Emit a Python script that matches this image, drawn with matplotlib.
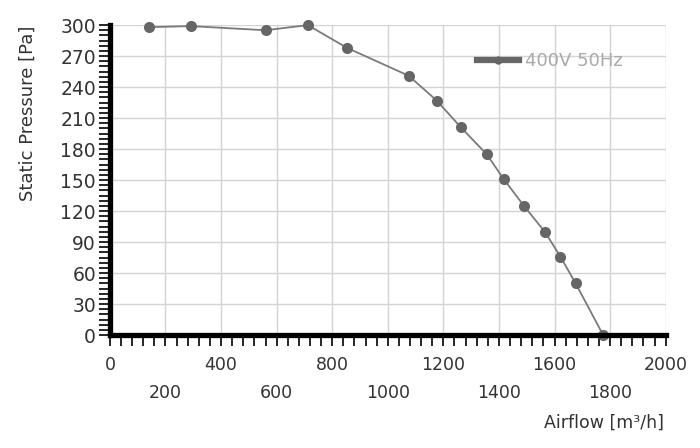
import matplotlib
matplotlib.use("Agg")
import matplotlib.pyplot as plt
from matplotlib.ticker import MultipleLocator, FuncFormatter
from matplotlib.lines import Line2D

# 风量-静压数据
airflow = [140, 291, 561, 712, 853, 1075, 1176, 1263, 1356, 1417, 1490, 1565, 1621, 1676, 1775]
pressure = [298, 299, 295, 300, 278, 251, 227, 201, 175, 151, 125, 100, 76, 50, 0]
series_name = "400V 50Hz"

plt.rcParams['font.family'] = ['DejaVu Sans']

fig = plt.figure(figsize=(7, 4.48), dpi=100)
ax = fig.add_axes([0.157, 0.252, 0.794, 0.692])

ax.plot(airflow, pressure, color='#7a7a7a', linewidth=1.3, marker='o',
        markersize=8, markerfacecolor='#666666', markeredgewidth=0,
        clip_on=False, zorder=3)

ax.set_xlim(0, 2000)
ax.set_ylim(0, 300)

# 坐标轴刻度
ax.xaxis.set_major_locator(MultipleLocator(200))
ax.xaxis.set_minor_locator(MultipleLocator(40))
ax.yaxis.set_major_locator(MultipleLocator(30))
ax.yaxis.set_minor_locator(MultipleLocator(5))

def xlab(v, pos):
    # 标签交错两行
    if int(round(v / 200)) % 2 == 1:
        return '\n%d' % v
    return '%d' % v
ax.xaxis.set_major_formatter(FuncFormatter(xlab))

ax.tick_params(axis='both', which='both', direction='out', length=8, width=1.2,
               color='black')
ax.tick_params(axis='y', labelsize=13.5, labelcolor='#333333', pad=2)
ax.tick_params(axis='x', labelsize=12.5, labelcolor='#333333', pad=7)
for lbl in ax.get_xticklabels():
    lbl.set_linespacing(1.75)

# 网格线
ax.grid(True, which='major', color='#d4d4d4', linewidth=1)
ax.set_axisbelow(True)

for s in ['top', 'right']:
    ax.spines[s].set_visible(False)
for s in ['left', 'bottom']:
    ax.spines[s].set_linewidth(3.8)
    ax.spines[s].set_color('black')
    ax.spines[s].set_zorder(4)

ax.set_ylabel('Static Pressure [Pa]', fontsize=13, color='#333333')
ax.yaxis.set_label_coords(-0.132, 0.716)
ax.set_xlabel('Airflow [m³/h]', fontsize=12.5, color='#333333')
ax.xaxis.set_label_coords(0.997, -0.255)
ax.xaxis.label.set_horizontalalignment('right')

# 图例
h = Line2D([], [], color='#666666', linewidth=4.5, marker='o', markersize=6,
           markeredgewidth=0)
leg = ax.legend(handles=[h], labels=[series_name], loc='upper left',
                bbox_to_anchor=(0.632, 0.965), frameon=False, fontsize=13,
                handlelength=2.3, handletextpad=0.35, labelcolor='#aaaaaa')

plt.savefig("out.png", dpi=100)
